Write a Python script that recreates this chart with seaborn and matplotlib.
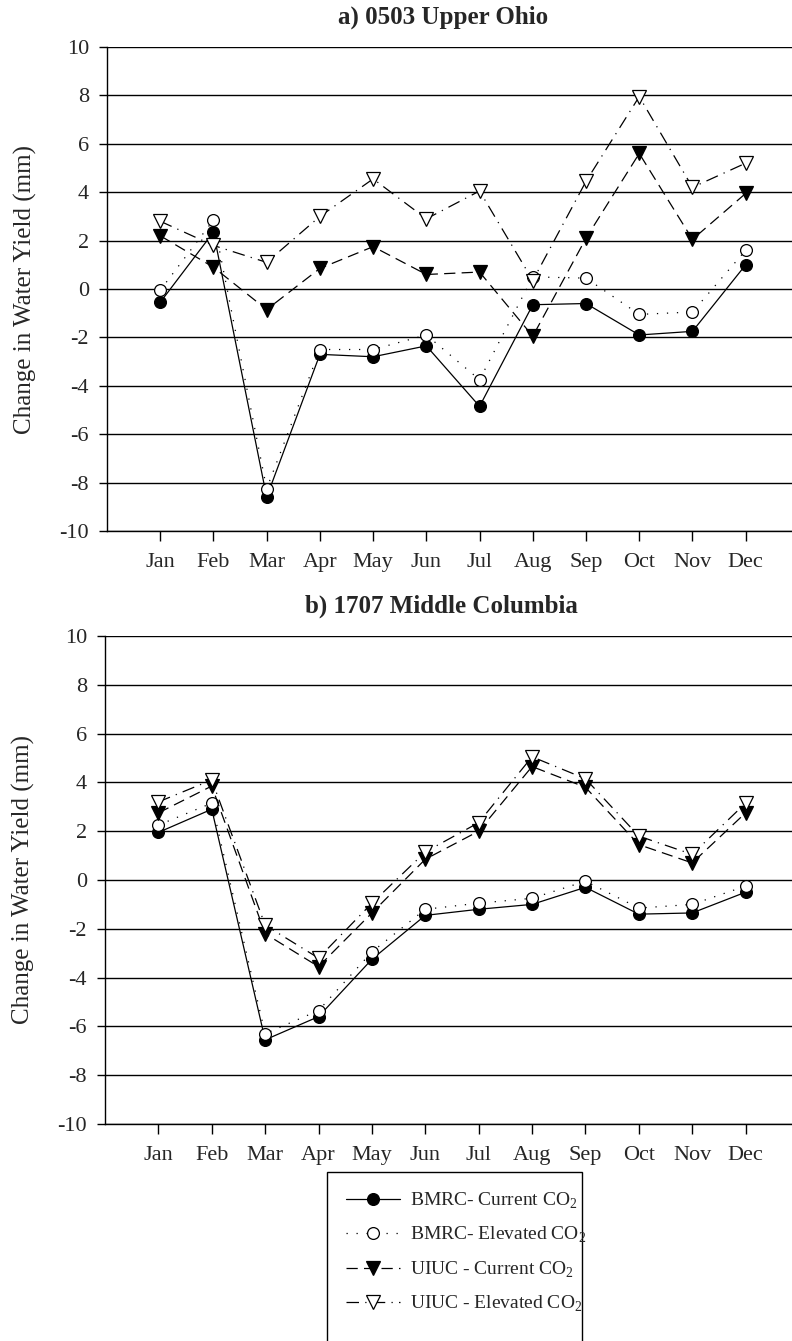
import matplotlib
matplotlib.use("Agg")
import matplotlib.pyplot as plt
import seaborn as sns
import numpy as np
from matplotlib.patches import Rectangle

months = ["Jan", "Feb", "Mar", "Apr", "May", "Jun", "Jul", "Aug", "Sep", "Oct", "Nov", "Dec"]
yticks = [-10, -8, -6, -4, -2, 0, 2, 4, 6, 8, 10]

# a) 0503 Upper Ohio
ohio_bmrc_current = [-0.55, 2.35, -8.6, -2.7, -2.8, -2.35, -4.85, -0.65, -0.6, -1.9, -1.75, 1.0]
ohio_bmrc_elevated = [-0.05, 2.85, -8.25, -2.5, -2.5, -1.9, -3.75, 0.5, 0.45, -1.05, -0.95, 1.6]
ohio_uiuc_current = [2.2, 0.9, -0.85, 0.85, 1.75, 0.6, 0.7, -1.95, 2.1, 5.6, 2.05, 3.95]
ohio_uiuc_elevated = [2.8, 1.8, 1.1, 3.0, 4.55, 2.9, 4.05, 0.35, 4.45, 7.95, 4.2, 5.2]

# b) 1707 Middle Columbia
col_bmrc_current = [1.95, 2.9, -6.55, -5.6, -3.25, -1.45, -1.2, -1.0, -0.3, -1.4, -1.35, -0.5]
col_bmrc_elevated = [2.25, 3.15, -6.3, -5.35, -2.95, -1.2, -0.95, -0.75, -0.05, -1.15, -1.0, -0.25]
col_uiuc_current = [2.75, 3.85, -2.2, -3.55, -1.35, 0.85, 2.0, 4.65, 3.8, 1.45, 0.7, 2.75]
col_uiuc_elevated = [3.2, 4.1, -1.85, -3.2, -0.95, 1.15, 2.35, 5.05, 4.15, 1.8, 1.05, 3.15]

labels = ["BMRC- Current CO$_2$", "BMRC- Elevated CO$_2$",
          "UIUC - Current CO$_2$", "UIUC - Elevated CO$_2$"]

sns.set_style("white")
plt.rcParams['font.family'] = ['Liberation Serif', 'DejaVu Serif']
plt.rcParams['mathtext.fontset'] = 'custom'
plt.rcParams['mathtext.rm'] = 'Liberation Serif'
plt.rcParams['axes.unicode_minus'] = False

fig = plt.figure(figsize=(7.92, 13.41), dpi=100)
W, H = 792.0, 1341.0
ax1 = fig.add_axes([107 / W, 1 - 531 / H, 1 - 107 / W, 484 / H])
ax2 = fig.add_axes([105 / W, 1 - 1124 / H, 1 - 105 / W, 488 / H])

styles = [
    dict(marker='o', markersize=8.5, markerfacecolor='black', linestyle='-'),
    dict(marker='o', markersize=8.5, markerfacecolor='white', linestyle=(0, (1, 7))),
    dict(marker='v', markersize=9.5, markerfacecolor='black', linestyle=(0, (9, 5))),
    dict(marker='v', markersize=9.5, markerfacecolor='white', linestyle=(0, (10, 5, 1, 5))),
]

x = np.arange(len(months))
panels = [
    (ax1, "a) 0503 Upper Ohio", [ohio_bmrc_current, ohio_bmrc_elevated, ohio_uiuc_current, ohio_uiuc_elevated]),
    (ax2, "b) 1707 Middle Columbia", [col_bmrc_current, col_bmrc_elevated, col_uiuc_current, col_uiuc_elevated]),
]

for ax, title, series in panels:
    for vals, st, lab in zip(series, styles, labels):
        sns.lineplot(x=x, y=vals, ax=ax, color='black', linewidth=0.9,
                     markeredgecolor='black', markeredgewidth=0.9,
                     label=lab, legend=False, **st)
    ax.set_xlim(-1.0, 11.87)
    ax.set_ylim(-10, 10)
    ax.set_yticks(yticks)
    ax.set_yticklabels([str(v) for v in yticks])
    ax.set_xticks(x)
    ax.set_xticklabels(months)
    ax.yaxis.grid(True, color='black', linewidth=1.0)
    ax.xaxis.grid(False)
    ax.set_axisbelow(True)
    for s in ['top', 'right']:
        ax.spines[s].set_visible(False)
    for s in ['left', 'bottom']:
        ax.spines[s].set_color('black')
        ax.spines[s].set_linewidth(1.0)
    ax.tick_params(axis='x', bottom=True, direction='out', length=7, width=1,
                   color='black', labelsize=16, pad=9)
    ax.tick_params(axis='y', left=True, direction='out', length=6, width=1,
                   color='black', labelsize=16, pad=7)
    ax.set_ylabel("Change in Water Yield (mm)", fontsize=18, labelpad=16)
    ax.set_xlabel("")
    ax.set_title(title, fontsize=18, fontweight='bold', pad=17, x=0.49)

# legend
handles, labs = ax2.get_legend_handles_labels()
fig.patches.append(Rectangle((327 / W, -0.01), (582 - 327) / W, (1 - 1172 / H) + 0.01,
                             transform=fig.transFigure, facecolor='white',
                             edgecolor='black', linewidth=1.0))
fig.legend(handles, labs, loc='upper left', bbox_to_anchor=(338 / W, 1 - 1183 / H),
           frameon=False, fontsize=14, labelspacing=0.72, handlelength=2.8,
           handletextpad=0.5, borderaxespad=0)

fig.savefig("out.png", dpi=100)
